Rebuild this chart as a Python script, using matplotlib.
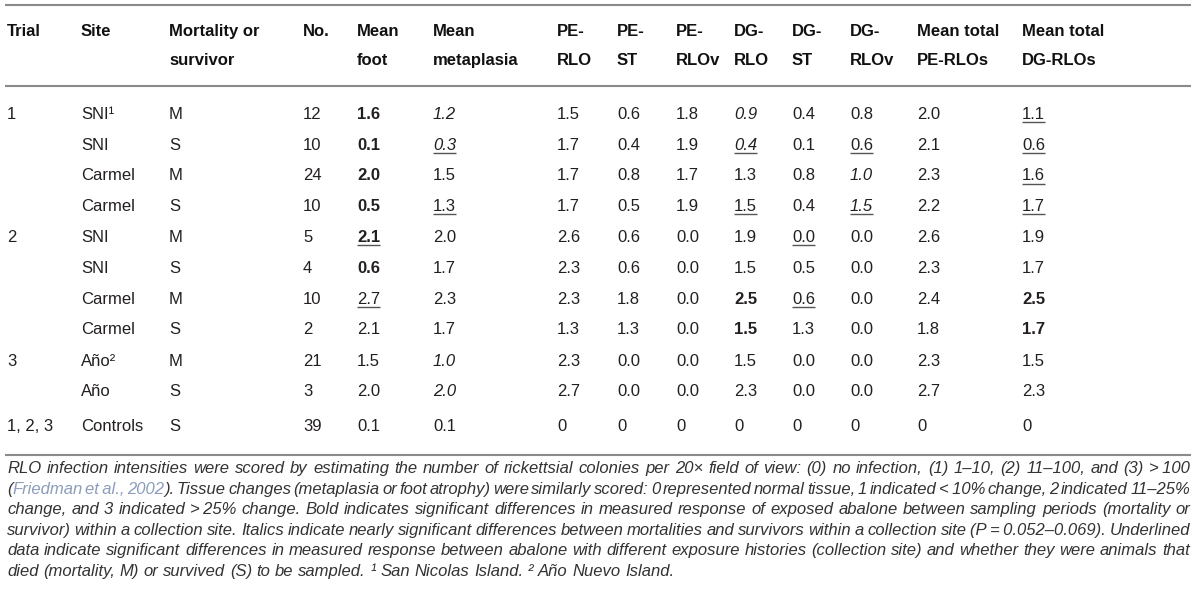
import matplotlib
matplotlib.use("Agg")
import matplotlib.pyplot as plt

plt.rcParams['font.family'] = ['Liberation Sans', 'DejaVu Sans']

# table content
header_top = ["Trial", "Site", "Mortality or", "No.", "Mean", "Mean", "PE-", "PE-", "PE-",
              "DG-", "DG-", "DG-", "Mean total", "Mean total"]
header_bot = ["", "", "survivor", "", "foot", "metaplasia", "RLO", "ST", "RLOv",
              "RLO", "ST", "RLOv", "PE-RLOs", "DG-RLOs"]

trial = ["1", "", "", "", "2", "", "", "", "3", "", "1, 2, 3"]
site = ["SNI\u00b9", "SNI", "Carmel", "Carmel", "SNI", "SNI", "Carmel", "Carmel", "A\u00f1o\u00b2", "A\u00f1o", "Controls"]
mort = ["M", "S", "M", "S", "M", "S", "M", "S", "M", "S", "S"]
number = ["12", "10", "24", "10", "5", "4", "10", "2", "21", "3", "39"]
mean_foot = ["1.6", "0.1", "2.0", "0.5", "2.1", "0.6", "2.7", "2.1", "1.5", "2.0", "0.1"]
mean_meta = ["1.2", "0.3", "1.5", "1.3", "2.0", "1.7", "2.3", "1.7", "1.0", "2.0", "0.1"]
pe_rlo = ["1.5", "1.7", "1.7", "1.7", "2.6", "2.3", "2.3", "1.3", "2.3", "2.7", "0"]
pe_st = ["0.6", "0.4", "0.8", "0.5", "0.6", "0.6", "1.8", "1.3", "0.0", "0.0", "0"]
pe_rlov = ["1.8", "1.9", "1.7", "1.9", "0.0", "0.0", "0.0", "0.0", "0.0", "0.0", "0"]
dg_rlo = ["0.9", "0.4", "1.3", "1.5", "1.9", "1.5", "2.5", "1.5", "1.5", "2.3", "0"]
dg_st = ["0.4", "0.1", "0.8", "0.4", "0.0", "0.5", "0.6", "1.3", "0.0", "0.0", "0"]
dg_rlov = ["0.8", "0.6", "1.0", "1.5", "0.0", "0.0", "0.0", "0.0", "0.0", "0.0", "0"]
tot_pe = ["2.0", "2.1", "2.3", "2.2", "2.6", "2.3", "2.4", "1.8", "2.3", "2.7", "0"]
tot_dg = ["1.1", "0.6", "1.6", "1.7", "1.9", "1.7", "2.5", "1.7", "1.5", "2.3", "0"]

columns = [trial, site, mort, number, mean_foot, mean_meta, pe_rlo, pe_st, pe_rlov,
           dg_rlo, dg_st, dg_rlov, tot_pe, tot_dg]

# (row, col) emphasis
bold_cells = {(0, 4), (1, 4), (2, 4), (3, 4), (4, 4), (5, 4), (6, 9), (7, 9), (6, 13), (7, 13)}
italic_cells = {(0, 5), (1, 5), (0, 9), (1, 9), (2, 11), (3, 11), (8, 5), (9, 5)}
under_cells = {(1, 5), (3, 5), (1, 9), (3, 9), (1, 11), (3, 11), (0, 13), (1, 13), (2, 13),
               (3, 13), (4, 4), (4, 10), (6, 4), (6, 10)}

# footnote, one entry per printed line; a word is a list of (text, kind) runs
N, L = 'n', 'l'
foot_text = [
    "RLO infection intensities were scored by estimating the number of rickettsial colonies per 20\u00d7 field of view: (0) no infection, (1) 1\u201310, (2) 11\u2013100, and (3) >\u2009100",
    "Tissue changes (metaplasia or foot atrophy) were similarly scored: 0 represented normal tissue, 1 indicated <\u200910% change, 2 indicated 11\u201325%",
    "change, and 3 indicated >\u200925% change. Bold indicates significant differences in measured response of exposed abalone between sampling periods (mortality or",
    "survivor) within a collection site. Italics indicate nearly significant differences between mortalities and survivors within a collection site (P\u2009=\u20090.052\u20130.069). Underlined",
    "data indicate significant differences in measured response between abalone with different exposure histories (collection site) and whether they were animals that",
    "died (mortality, M) or survived (S) to be sampled. \u00b9 San Nicolas Island. \u00b2 A\u00f1o Nuevo Island.",
]
cite_words = [[("(", N), ("Friedman", L)], [("et\u2009al.,", L)], [("2002", L), (").", N)]]

W, H = 1200, 594
fig = plt.figure(figsize=(W / 100, H / 100), dpi=100)
ax = fig.add_axes([0, 0, 1, 1])
ax.set_xlim(0, W)
ax.set_ylim(H, 0)
ax.axis('off')
fig.patch.set_facecolor('white')
renderer = fig.canvas.get_renderer()
inv = ax.transData.inverted()

col_x = [7, 81, 169, 303, 357, 433, 557, 617, 676, 734, 792, 850, 917, 1022]
row_y = [113, 144, 174.5, 205, 236, 267, 298, 328.5, 359.5, 390, 425]
hdr_y = [30, 59]
txt_col = '#231f20'
fs = 12
base_off = 6.0   # centre -> baseline, px

# rules
for y in (5, 86, 455):
    ax.plot([5, 1191], [y, y], color='#8a8a8a', lw=1.5, solid_capstyle='butt')

for j, x in enumerate(col_x):
    ax.text(x, hdr_y[0] + base_off, header_top[j], fontsize=fs, fontweight='bold',
            color='#111111', va='baseline')
    if header_bot[j]:
        ax.text(x, hdr_y[1] + base_off, header_bot[j], fontsize=fs, fontweight='bold',
                color='#111111', va='baseline')

for j, col in enumerate(columns):
    for i, val in enumerate(col):
        if not val:
            continue
        yb = row_y[i] + base_off
        t = ax.text(col_x[j], yb, val, fontsize=fs, color=txt_col, va='baseline',
                    fontweight='bold' if (i, j) in bold_cells else 'normal',
                    fontstyle='italic' if (i, j) in italic_cells else 'normal')
        if (i, j) in under_cells:
            bb = t.get_window_extent(renderer)
            (x0, _), (x1, _) = inv.transform([(bb.x0, bb.y0), (bb.x1, bb.y1)])
            ax.plot([x0, x1], [yb + 3, yb + 3], color='#555555', lw=1.0, solid_capstyle='butt')

# footnote, justified
link_col = '#8c9dbb'
left, right = 7, 1190
foot_y = [467, 488, 508.5, 529, 549.5, 570]


def run_width(s, size):
    t = ax.text(0, 0, s, fontsize=size, fontstyle='italic')
    w = t.get_window_extent(renderer).width
    t.remove()
    return w


# size the footnote so the first line, with plain spaces, just fills the width
ffs = 10.0 * (right - left) / run_width(foot_text[0], 10.0) * 0.985
space_w = run_width("a a", ffs) - run_width("aa", ffs)
foot_off = 0.36 * ffs * 100 / 72

foot_lines = []
for k, s in enumerate(foot_text):
    words = [[(w, N)] for w in s.split(" ")]
    if k == 1:
        words = cite_words + words
    foot_lines.append(words)

for k, words in enumerate(foot_lines):
    widths = [[run_width(s, ffs) for s, _ in wd] for wd in words]
    total = sum(sum(w) for w in widths)
    if k < len(foot_lines) - 1:
        gap = (right - left - total) / (len(words) - 1)
    else:
        gap = space_w
    x = left
    for wd, ws in zip(words, widths):
        for (s, kind), w in zip(wd, ws):
            ax.text(x, foot_y[k] + foot_off, s, fontsize=ffs, fontstyle='italic', va='baseline',
                    color=link_col if kind == L else '#333333')
            x += w
        x += gap

fig.savefig("out.png", dpi=100, facecolor='white')
